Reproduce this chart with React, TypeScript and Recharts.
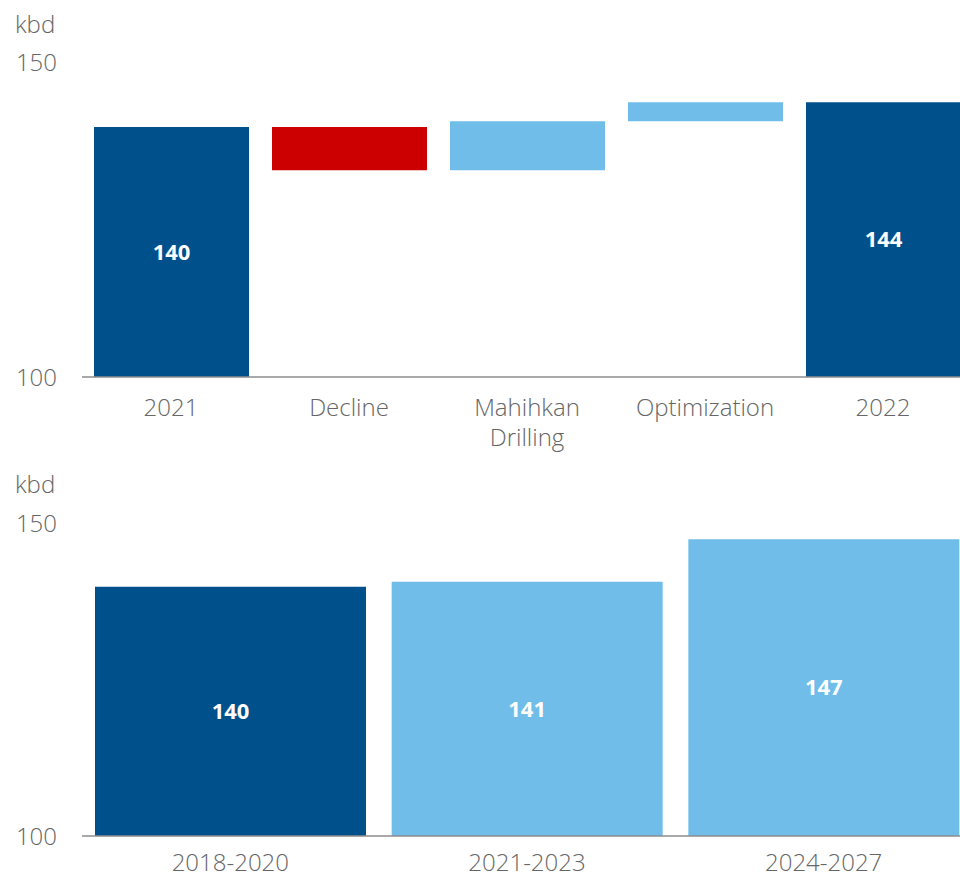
import { BarChart, Bar, XAxis, YAxis, Cell, LabelList } from 'recharts'

const steps = ['2021', 'Decline', 'Mahihkan Drilling', 'Optimization', '2022']
const stepValues = [139.7, -6.9, 7.8, 3.0, 143.6]
const stepKinds = ['total', 'down', 'up', 'up', 'total']

const periods = ['2018-2020', '2021-2023', '2024-2027']
const periodValues = [139.8, 140.6, 147.4]
const periodKinds = ['actual', 'plan', 'plan']

const yTicks = [100, 150]
const AXIS_MIN = 100

const DARK = '#00508c'
const LIGHT = '#70bdea'
const RED = '#cc0000'
const FONT = "'Open Sans', sans-serif"
const GREY = '#666'

const kindColor: Record<string, string> = { total: DARK, actual: DARK, down: RED, up: LIGHT, plan: LIGHT }

// waterfall: running total -> [low, high] per step
let running = 0
const stepData = steps.map((name, i) => {
  const v = stepValues[i]
  let range: [number, number]
  if (stepKinds[i] === 'total') {
    running = v
    range = [AXIS_MIN, v]
  } else {
    const prev = running
    running = prev + v
    range = [Math.min(prev, running), Math.max(prev, running)]
  }
  return { name, range, kind: stepKinds[i], label: stepKinds[i] === 'total' ? String(Math.round(v)) : '' }
})

const periodData = periods.map((name, i) => ({
  name,
  value: periodValues[i],
  kind: periodKinds[i],
  label: String(Math.round(periodValues[i])),
}))

function WrapTick({ x, y, payload, first = 39 }: any) {
  const words = String(payload.value).split(' ')
  return (
    <text x={x} y={y} textAnchor="middle" fill={GREY} fontSize={24} fontWeight={300} fontFamily={FONT}>
      {words.map((w, i) => (
        <tspan key={i} x={x} dy={i === 0 ? first : 30}>
          {w}
        </tspan>
      ))}
    </text>
  )
}

const yAxisProps = {
  width: 82,
  domain: [100, 150] as [number, number],
  ticks: yTicks,
  axisLine: false,
  tickLine: false,
  tickSize: 0,
  tickMargin: 25,
  tick: { fill: GREY, fontSize: 24, fontWeight: 300, fontFamily: FONT },
  allowDataOverflow: true,
}

const xAxisProps = {
  dataKey: 'name',
  tickLine: false,
  tickSize: 0,
  tickMargin: 0,
  interval: 0 as const,
  axisLine: { stroke: '#8c8c8c', strokeWidth: 1.5 },
}

const unitStyle = {
  position: 'absolute' as const,
  left: 15,
  fontSize: 24,
  lineHeight: '24px',
  fontWeight: 300,
  fontFamily: FONT,
  color: GREY,
}

const barLabel = { fill: '#fff', fontSize: 22, fontWeight: 700, fontFamily: FONT }

export default function App() {
  return (
    <div style={{ position: 'absolute', top: 0, left: 0, width: 960, height: 878, overflow: 'hidden', background: '#fff' }}>
      <div style={{ ...unitStyle, top: 12 }}>kbd</div>
      <div style={{ position: 'absolute', top: 0, left: 0 }}>
        <BarChart width={972} height={455} data={stepData} margin={{ top: 62, right: 0, left: 0, bottom: 0 }}>
          <XAxis {...xAxisProps} height={78} tick={<WrapTick first={39} />} />
          <YAxis {...yAxisProps} />
          <Bar dataKey="range" barSize={155} isAnimationActive={false}>
            {stepData.map((d, i) => (
              <Cell key={i} fill={kindColor[d.kind]} />
            ))}
            <LabelList dataKey="label" position="center" {...barLabel} />
          </Bar>
        </BarChart>
      </div>

      <div style={{ ...unitStyle, top: 472 }}>kbd</div>
      <div style={{ position: 'absolute', top: 455, left: 0 }}>
        <BarChart width={972} height={423} data={periodData} margin={{ top: 68, right: 0, left: 0, bottom: 0 }}>
          <XAxis {...xAxisProps} height={42} tick={<WrapTick first={35} />} />
          <YAxis {...yAxisProps} />
          <Bar dataKey="value" barSize={271} isAnimationActive={false}>
            {periodData.map((d, i) => (
              <Cell key={i} fill={kindColor[d.kind]} />
            ))}
            <LabelList dataKey="label" position="center" {...barLabel} />
          </Bar>
        </BarChart>
      </div>
    </div>
  )
}
